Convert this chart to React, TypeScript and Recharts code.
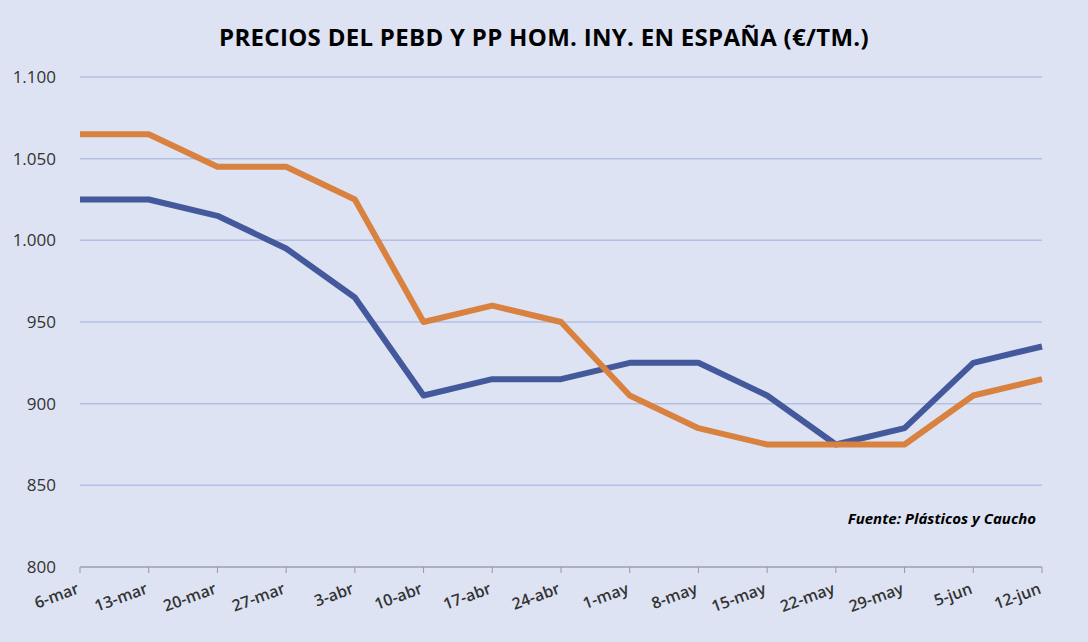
import { LineChart, Line, XAxis, YAxis, CartesianGrid } from "recharts";

const weeks = ["6-mar","13-mar","20-mar","27-mar","3-abr","10-abr","17-abr","24-abr","1-may","8-may","15-may","22-may","29-may","5-jun","12-jun"];
const pebd = [1025,1025,1015,995,965,905,915,915,925,925,905,875,885,925,935];
const pp = [1065,1065,1045,1045,1025,950,960,950,905,885,875,875,875,905,915];
const yTicks = [800,850,900,950,1000,1050,1100];

const data = weeks.map((w, i) => ({ w, pebd: pebd[i], pp: pp[i] }));
const fmt = (v: number) => v.toLocaleString("de-DE");
const FONT = "'Open Sans', 'Liberation Sans', sans-serif";

const XTick = (props: any) => {
  const { x, y, payload } = props;
  return (
    <text x={x} y={y + 18} textAnchor="end" transform={`rotate(-20 ${x} ${y + 18})`}
      fontSize={16} fontWeight={600} fill="#333" fontFamily={FONT}>
      {payload.value}
    </text>
  );
};

export default function App() {
  return (
    <div style={{ position: "absolute", left: 0, top: 0, width: 1088, height: 642, background: "#dde3f3", fontFamily: FONT }}>
      <div style={{ position: "absolute", top: 20, width: 1088, textAlign: "center", fontSize: 24, fontWeight: 700, color: "#000", letterSpacing: 0.3 }}>
        PRECIOS DEL PEBD Y PP HOM. INY. EN ESPAÑA (€/TM.)
      </div>
      <div style={{ position: "absolute", top: 508, right: 52, fontSize: 15, fontWeight: 700, fontStyle: "italic", color: "#000" }}>
        Fuente: Plásticos y Caucho
      </div>
      <LineChart width={1088} height={642} data={data} margin={{ top: 77, right: 46, bottom: 45, left: 0 }}>
        <CartesianGrid vertical={false} stroke="#b3bfe6" strokeWidth={1.5} />
        <XAxis dataKey="w" tick={<XTick />} tickLine={{ stroke: "#999" }} axisLine={{ stroke: "#999" }} interval={0} />
        <YAxis width={80} domain={[800, 1100]} ticks={yTicks} tickFormatter={fmt} axisLine={false} tickLine={false}
          tick={{ fontSize: 17, fill: "#333", fontFamily: FONT }} tickMargin={18} />
        <Line dataKey="pebd" stroke="#44599b" strokeWidth={6} dot={false} isAnimationActive={false} strokeLinejoin="round" />
        <Line dataKey="pp" stroke="#d9813f" strokeWidth={6} dot={false} isAnimationActive={false} strokeLinejoin="round" />
      </LineChart>
    </div>
  );
}
